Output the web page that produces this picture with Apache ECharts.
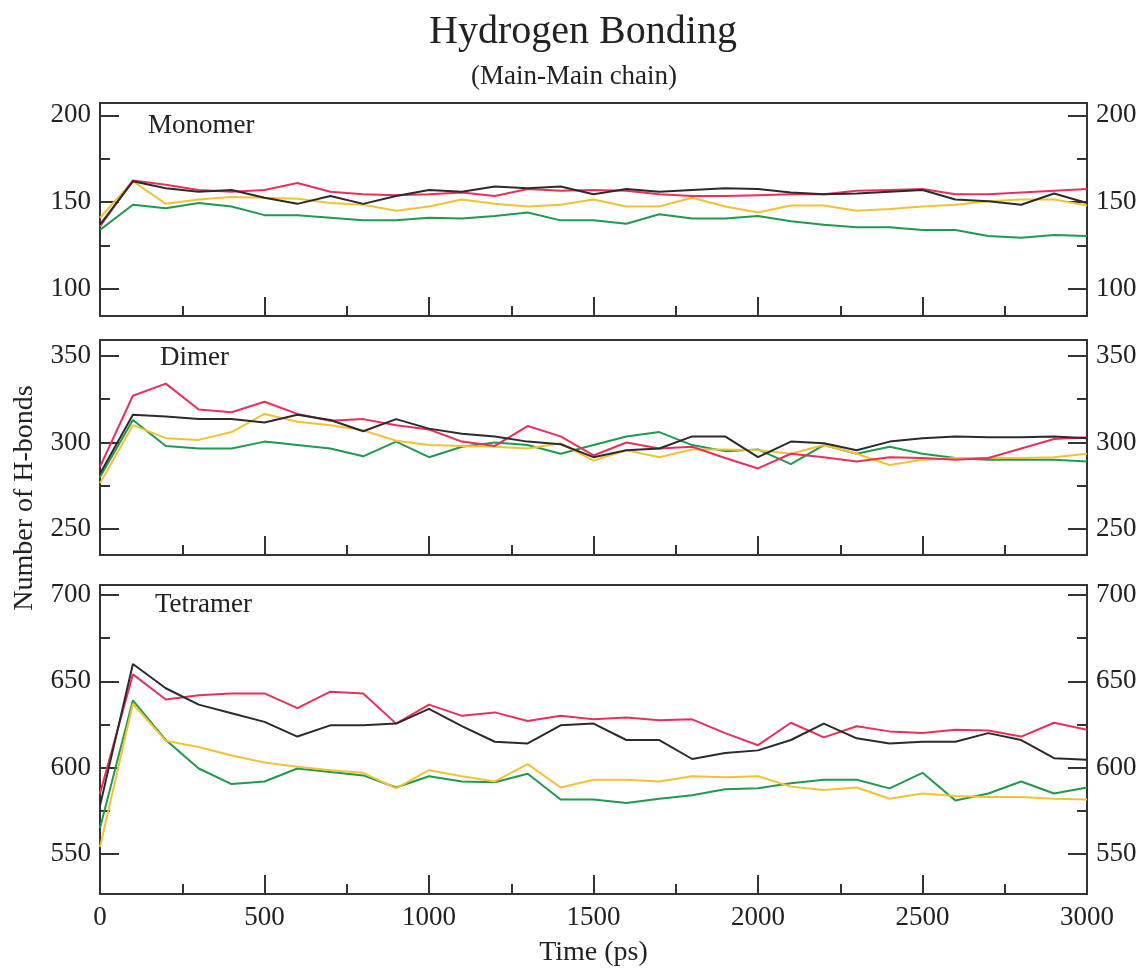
<!DOCTYPE html>
<html>
<head>
<meta charset="utf-8">
<style>html,body{margin:0;padding:0;background:#fff}#c{width:1143px;height:968px}</style>
<script src="https://cdn.jsdelivr.net/npm/echarts@6/dist/echarts.min.js"></script>
</head>
<body>
<div id="c"></div>
<script>
const times = [0,100,200,300,400,500,600,700,800,900,1000,1100,1200,1300,1400,1500,1600,1700,1800,1900,2000,2100,2200,2300,2400,2500,2600,2700,2800,2900,3000];

const monomerBlack  = [137,162,158,156,157,152.5,149,153.5,149,153.5,157,156,159,158,159,154.5,157.5,156,157,158,157.5,155.5,154.5,155,156,157,151.5,150.5,148.5,155,149.5];
const monomerRed    = [136,162.5,160,157,156,157,161,156,154.5,154,154.5,155.5,153.5,157.5,156.5,157,156.5,154.5,153.5,153.5,154,154.5,154.5,156.5,157,157.5,154.5,154.5,155.5,156.5,157.5];
const monomerYellow = [141,162,149,151.5,153,152.5,152,149.5,148.5,145,147.5,151.5,149,147.5,148.5,151.5,147.5,147.5,152.5,147.5,144,148,148,145,146,147.5,148.5,150.5,151.5,151.5,148];
const monomerGreen  = [134,148.5,146.5,149.5,147.5,142.5,142.5,141,139.5,139.5,141,140.5,142,144,139.5,139.5,137.5,143,140.5,140.5,142,139,137,135.5,135.5,134,134,130.5,129.5,131,130.5];

const dimerBlack  = [282,316,315,313.5,313.5,311.5,316,313,306.5,313.5,308,305,303.5,300.5,299,291.5,295.5,296.5,303.5,303.5,291.5,300.5,299.5,295.5,300.5,302.5,303.5,303,303,303.5,302.5];
const dimerRed    = [286,327,334,319,317.5,323.5,316.5,312.5,313.5,310,307.5,300.5,298,309.5,303.5,292.5,300,296.5,297.5,291,285,293.5,291.5,289,291.5,291,290,291,296.5,302,303];
const dimerYellow = [276.5,310,302.5,301.5,306,316.5,312,310,307,301,298.5,298,297.5,296.5,299.5,289.5,295.5,291.5,296,296,295.5,293.5,298.5,293.5,287,290,291,291,291,291.5,293.5];
const dimerGreen  = [280,313,298,296.5,296.5,300.5,298.5,296.5,292,300.5,291.5,297.5,300,298.5,293.5,298.5,303.5,306,298.5,295,296,287.5,298.5,293.5,297.5,293.5,291,290,290,290,289];

const tetramerBlack  = [578,660,646,636.5,631.5,626.5,618,624.5,624.5,625.5,634,624,615,614,624.5,625.5,616,616,605,608.5,610,616,625.5,617,614,615,615,620,616,605.5,604.5];
const tetramerRed    = [585,654,639.5,642,643,643,634.5,644,643,625.5,636.5,630,632,627,630,628,629,627.5,628,620,613,626,617.5,624,621,620,622,621.5,618,626,622];
const tetramerYellow = [554,637,615.5,612,607,603,600.5,598.5,597,588,598.5,595,592,602,588.5,593,593,592,595,594.5,595,589,587,588.5,582,585,583.5,583,583,582,581.5];
const tetramerGreen  = [565,639,616,599.5,590.5,592,599.5,597.5,595.5,588.5,595,592,591.5,596.5,581.5,581.5,579.5,582,584,587.5,588,591,593,593,588,597,581,585,592,585,588.5];

const panelNames = ['Monomer','Dimer','Tetramer'];
const yMajorTicks = [[100,150,200],[250,300,350],[550,600,650,700]];
const yMinorTicks = [[125,175],[275,325],[575,625,675]];
const xMajorTicks = [0,500,1000,1500,2000,2500,3000];
const xMinorTicks = [250,750,1250,1750,2250,2750];
const seriesColors = ['#2b2b2b','#e8315a','#f3c232','#1f9a4f'];

const panelData = [
  [monomerBlack, monomerRed, monomerYellow, monomerGreen],
  [dimerBlack, dimerRed, dimerYellow, dimerGreen],
  [tetramerBlack, tetramerRed, tetramerYellow, tetramerGreen]
];

// layout (pixels)
const grids = [
  {left:100, right:56, top:103, height:213, ymin:84.4, ymax:207.1},
  {left:100, right:56, top:340, height:215, ymin:235, ymax:359.2},
  {left:100, right:56, top:585, height:309, ymin:526.8, ymax:705.8}
];
const FONT = '"Liberation Serif", "DejaVu Serif", serif';
const TXT = '#222';
const plain = v => String(Math.round(v));

const option = {
  animation:false,
  backgroundColor:'#fff',
  grid:[], xAxis:[], yAxis:[], series:[],
  graphic:[
    {type:'text', x:583, y:12, style:{text:'Hydrogen Bonding', font:'40px '+FONT, fill:TXT, align:'center'}},
    {type:'text', x:574, y:63, style:{text:'(Main-Main chain)', font:'27px '+FONT, fill:TXT, align:'center'}},
    {type:'text', x:25, y:498, rotation:Math.PI/2, style:{text:'Number of H-bonds', font:'28px '+FONT, fill:TXT, align:'center', verticalAlign:'middle'}}
  ]
};
const labelPos = [{x:148,y:126},{x:160,y:358},{x:155,y:605}];

grids.forEach((g,i)=>{
  option.grid.push({left:g.left, right:g.right, top:g.top, height:g.height, show:true, borderColor:'#333', borderWidth:2, backgroundColor:'transparent'});
  const last = i===grids.length-1;
  const xBase = {type:'value', gridIndex:i, min:0, max:3000, splitLine:{show:false}, axisLine:{show:false}};
  option.xAxis.push(Object.assign({}, xBase, {
    position:'bottom',
    axisTick:{show:true, inside:true, length:19, lineStyle:{color:'#333', width:2}, customValues:xMajorTicks},
    axisLabel:{show:last, customValues:xMajorTicks, formatter:plain, margin:10, fontSize:27, fontFamily:FONT, color:TXT},
    name: last ? 'Time (ps)' : '', nameLocation:'middle', nameGap:45, nameTextStyle:{fontSize:28, fontFamily:FONT, color:TXT}
  }));
  option.xAxis.push(Object.assign({}, xBase, {
    position:'bottom',
    axisTick:{show:true, inside:true, length:10, lineStyle:{color:'#333', width:2}, customValues:xMinorTicks},
    axisLabel:{show:false}
  }));
  const yBase = {type:'value', gridIndex:i, min:g.ymin, max:g.ymax, splitLine:{show:false}, axisLine:{show:false}};
  ['left','right'].forEach(pos=>{
    option.yAxis.push(Object.assign({}, yBase, {
      position:pos,
      axisTick:{show:true, inside:true, length:19, lineStyle:{color:'#333', width:2}, customValues:yMajorTicks[i]},
      axisLabel:{show:true, customValues:yMajorTicks[i], formatter:plain, margin:9, fontSize:27, fontFamily:FONT, color:TXT}
    }));
    option.yAxis.push(Object.assign({}, yBase, {
      position:pos,
      axisTick:{show:true, inside:true, length:10, lineStyle:{color:'#333', width:2}, customValues:yMinorTicks[i]},
      axisLabel:{show:false}
    }));
  });
  panelData[i].forEach((vals,k)=>{
    option.series.push({
      type:'line', xAxisIndex:i*2, yAxisIndex:i*4,
      data: times.map((t,j)=>[t, vals[j]]),
      showSymbol:false, symbol:'none',
      lineStyle:{color:seriesColors[k], width:2},
      z: 10 - k
    });
  });
  option.graphic.push({type:'text', x:labelPos[i].x, y:labelPos[i].y, style:{text:panelNames[i], font:'27px '+FONT, fill:TXT, verticalAlign:'middle'}});
});

const chart = echarts.init(document.getElementById('c'), null, {renderer:'canvas'});
chart.setOption(option);
</script>
</body>
</html>
